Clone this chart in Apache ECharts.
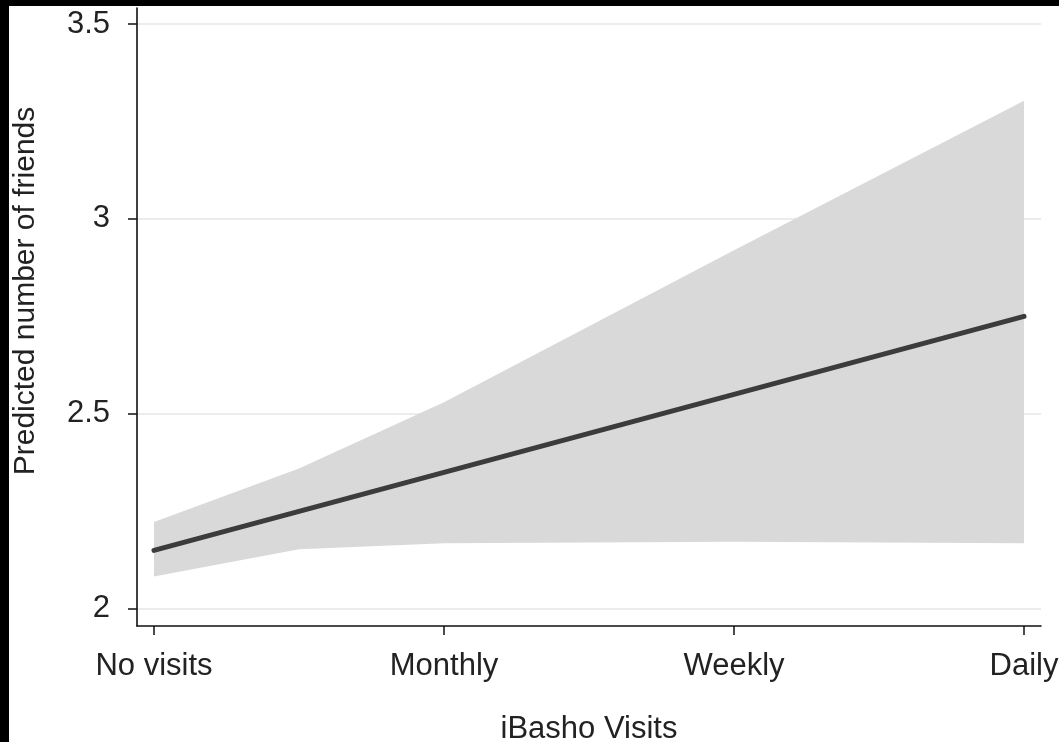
<!DOCTYPE html>
<html>
<head>
<meta charset="utf-8">
<script src="https://cdn.jsdelivr.net/npm/echarts@6/dist/echarts.min.js"></script>
<style>
  html, body { margin: 0; padding: 0; background: #000; width: 1059px; height: 742px; overflow: hidden; }
  #chart { position: absolute; left: 9px; top: 6px; width: 1050px; height: 736px; background: #fff; }
</style>
</head>
<body>
<div id="chart"></div>
<script>
// ---- data ----
const categories = ['No visits', 'Monthly', 'Weekly', 'Daily'];
const categoryPositions = [0, 1, 2, 3];
const xPoints = [0, 0.5, 1, 2, 3];
const predicted = [2.15, 2.25, 2.35, 2.55, 2.75];
const ciLower = [2.083, 2.153, 2.168, 2.172, 2.168];
const ciUpper = [2.223, 2.36, 2.53, 2.92, 3.303];
const yTicks = [2, 2.5, 3, 3.5];
const xTitle = 'iBasho Visits';
const yTitle = 'Predicted number of friends';

const FONT = '"Liberation Sans", Arial, Helvetica, sans-serif';
const chart = echarts.init(document.getElementById('chart'), null, { renderer: 'canvas' });

const bandData = xPoints.map((x, i) => [x, ciLower[i], ciUpper[i]]);
const lineData = xPoints.map((x, i) => [x, predicted[i]]);

chart.setOption({
  animation: false,
  backgroundColor: '#fff',
  grid: { left: 128, right: 18, top: 2, bottom: 116, outerBoundsMode: 'none', containLabel: false },
  xAxis: {
    type: 'value',
    min: -0.0586, max: 3.0586,
    axisLine: { show: true, onZero: false, lineStyle: { color: '#111', width: 1.6 } },
    axisTick: { show: true, inside: false, length: 9, customValues: categoryPositions, lineStyle: { color: '#111', width: 1.5 } },
    axisLabel: {
      show: true, customValues: categoryPositions, margin: 25,
      formatter: v => categories[categoryPositions.indexOf(Math.round(v))] || '',
      color: '#222', fontSize: 31, fontFamily: FONT
    },
    splitLine: { show: false },
    name: xTitle, nameLocation: 'middle', nameGap: 88,
    nameTextStyle: { color: '#222', fontSize: 31, fontFamily: FONT }
  },
  yAxis: {
    type: 'value',
    min: 1.956, max: 3.541,
    axisLine: { show: true, onZero: false, lineStyle: { color: '#111', width: 1.6 } },
    axisTick: { show: true, inside: false, length: 9, customValues: yTicks, lineStyle: { color: '#111', width: 1.5 } },
    axisLabel: {
      show: true, customValues: yTicks, margin: 27,
      formatter: v => String(v),
      color: '#222', fontSize: 31, fontFamily: FONT
    },
    splitLine: { show: true, lineStyle: { color: '#e6e6e6', width: 1.6 } }
  },
  graphic: [{
    type: 'text',
    x: 17, y: 285,
    rotation: Math.PI / 2,
    style: { text: yTitle, fill: '#222', font: '30px ' + FONT, textAlign: 'center', textVerticalAlign: 'middle' }
  }],
  series: [
    {
      type: 'custom',
      data: bandData,
      encode: { x: 0, y: [1, 2] },
      silent: true,
      z: 1,
      renderItem: function (params, api) {
        if (params.dataIndex !== 0) return null;
        const upper = bandData.map(d => api.coord([d[0], d[2]]));
        const lower = bandData.map(d => api.coord([d[0], d[1]])).reverse();
        return {
          type: 'polygon',
          shape: { points: upper.concat(lower) },
          style: { fill: '#d9d9d9', stroke: null }
        };
      }
    },
    {
      type: 'line', data: lineData, symbol: 'none',
      lineStyle: { color: '#3c3c3c', width: 5, cap: 'round' }, z: 3
    }
  ]
});
</script>
</body>
</html>
